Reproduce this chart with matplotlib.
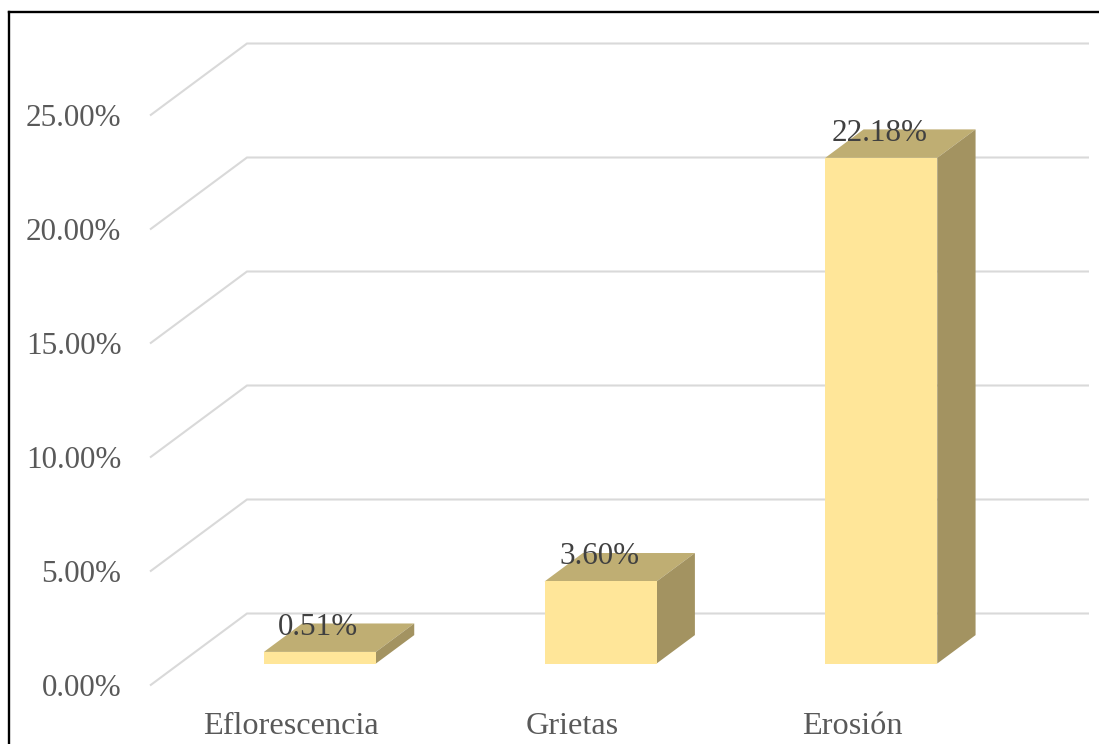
import matplotlib
matplotlib.use("Agg")
import matplotlib.pyplot as plt
from matplotlib.lines import Line2D
from matplotlib.patches import Polygon

plt.rcParams['font.family'] = ['Liberation Serif', 'DejaVu Serif']

categories = ["Eflorescencia", "Grietas", "Erosión"]
values = [0.51, 3.60, 22.18]
tick_values = [0, 5, 10, 15, 20, 25]
tick_labels = ["0.00%", "5.00%", "10.00%", "15.00%", "20.00%", "25.00%"]

W, H = 1099, 744
PX_CAT = 842 / 3
PX_VAL = 22.8
X0, Y0 = 150, 685.5
DX, DY = 97 / PX_CAT, 72 / PX_VAL      # full wall depth, data units
BAR_W = 112 / PX_CAT
D0, D1 = 0.305, 0.70                    # bar depth range as a wall fraction

FRONT, TOP, SIDE = "#FFE699", "#BFAE73", "#A39361"
GRID, TICK, LABEL = "#D9D9D9", "#595959", "#404040"

fig = plt.figure(figsize=(W / 100, H / 100), dpi=100, facecolor="white")
ax = fig.add_axes([0, 0, 1, 1])
ax.set_xlim(-0.5 - X0 / PX_CAT, -0.5 + (W - X0) / PX_CAT)
ax.set_ylim(-(H - Y0) / PX_VAL, Y0 / PX_VAL)
ax.axis("off")


def proj(x, v, d):
    return x + d * DX, v + d * DY


# walls: floor-edge diagonals and back-wall gridlines
for v, lab in zip(tick_values, tick_labels):
    xa, ya = proj(-0.5, v, 0)
    xb, yb = proj(-0.5, v, 1)
    xc, yc = proj(2.5, v, 1)
    ax.plot([xa, xb, xc], [ya, yb, yc], color=GRID, lw=1.5,
            solid_joinstyle="miter", solid_capstyle="butt", zorder=1)
    ax.annotate(lab, (xa, ya), xytext=(-28.5 * 0.72, -3.5 * 0.72), textcoords="offset points",
                ha="right", va="center", fontsize=22.4, color=TICK)

# oblique bars
for i, (cat, val) in enumerate(zip(categories, values)):
    l, r = i - BAR_W / 2, i + BAR_W / 2
    ax.add_patch(Polygon([proj(l, val, D0), proj(r, val, D0), proj(r, val, D1), proj(l, val, D1)],
                         closed=True, facecolor=TOP, edgecolor="none", zorder=2))
    ax.add_patch(Polygon([proj(r, 0, D0), proj(r, 0, D1), proj(r, val, D1), proj(r, val, D0)],
                         closed=True, facecolor=SIDE, edgecolor="none", zorder=2))
    ax.add_patch(Polygon([proj(l, 0, D0), proj(r, 0, D0), proj(r, val, D0), proj(l, val, D0)],
                         closed=True, facecolor=FRONT, edgecolor="none", zorder=3))
    cx, top = proj(i, val, D0)
    ax.annotate(f"{val:.2f}%", (cx, top), xytext=(-1.5 * 0.72, 24.5 * 0.72),
                textcoords="offset points", ha="center", va="center",
                fontsize=22.4, color=LABEL, zorder=5)
    # category labels
    fx, _ = proj(i, 0, 0)
    ax.text(fx + 1 / PX_CAT, -(726 - Y0) / PX_VAL, cat, ha="center", va="center",
            fontsize=23.2, color=TICK)

# outer frame (open at the right and bottom, cut by the image edge)
fx, fy = 8.5 / W, 1 - 12 / H
fig.add_artist(Line2D([fx, fx], [0, fy], color="black", lw=1.7, solid_capstyle="projecting"))
fig.add_artist(Line2D([fx, 1], [fy, fy], color="black", lw=1.7, solid_capstyle="projecting"))

fig.savefig("out.png", dpi=100, facecolor="white")
